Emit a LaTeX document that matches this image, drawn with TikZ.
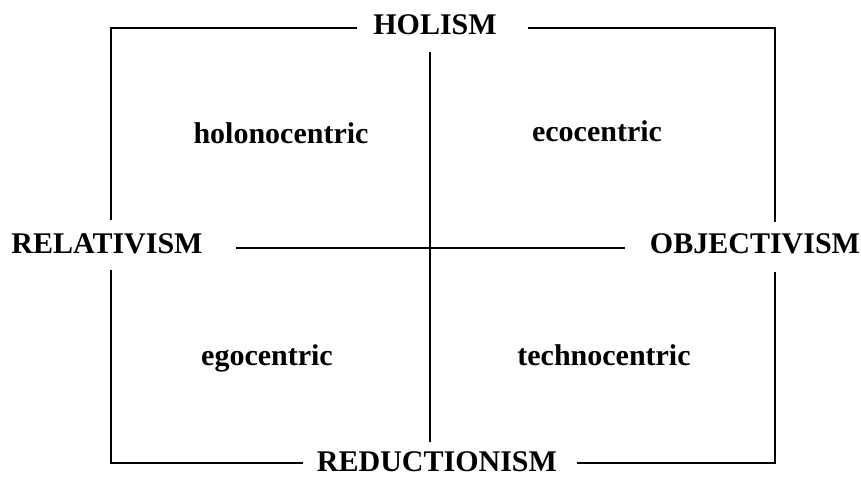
\documentclass[tikz,border=0pt]{standalone}
\usepackage{fontspec}
\setmainfont{Liberation Serif}
\begin{document}
\begin{tikzpicture}[x=1pt,y=-1pt,
  lbl/.style={font=\fontsize{30}{30}\selectfont\bfseries, inner sep=0pt, anchor=base},
  ln/.style={line width=2pt, line cap=butt, line join=miter}]
\useasboundingbox (0,0) rectangle (861,476);
% labels
\node[lbl] (hol) at (435,35) {HOLISM};
\node[lbl] (rel) at (107,253) {RELATIVISM};
\node[lbl] (obj) at (755,253) {OBJECTIVISM};
\node[lbl] (red) at (437,471) {REDUCTIONISM};
\node[lbl] (q1) at (281,143) {holonocentric};
\node[lbl] (q2) at (597,141) {ecocentric};
\node[lbl] (q3) at (267,365) {egocentric};
\node[lbl] (q4) at (604,365) {technocentric};
% frame coordinates
\coordinate (tla) at (357,28);
\coordinate (tl) at (111,28);
\coordinate (tlb) at (111,220);
\coordinate (bla) at (111,270);
\coordinate (bl) at (111,463);
\coordinate (blb) at (303,463);
\coordinate (tra) at (528,28);
\coordinate (tr) at (775,28);
\coordinate (trb) at (775,222);
\coordinate (bra) at (775,272);
\coordinate (br) at (775,463);
\coordinate (brb) at (577,463);
\coordinate (vt) at (430,52);
\coordinate (vb) at (430,442);
\coordinate (hl) at (236,248);
\coordinate (hr) at (625,248);
\draw[ln] (tla) -- (tl) -- (tlb);
\draw[ln] (bla) -- (bl) -- (blb);
\draw[ln] (tra) -- (tr) -- (trb);
\draw[ln] (bra) -- (br) -- (brb);
\draw[ln] (vt) -- (vb);
\draw[ln] (hl) -- (hr);
\end{tikzpicture}
\end{document}
